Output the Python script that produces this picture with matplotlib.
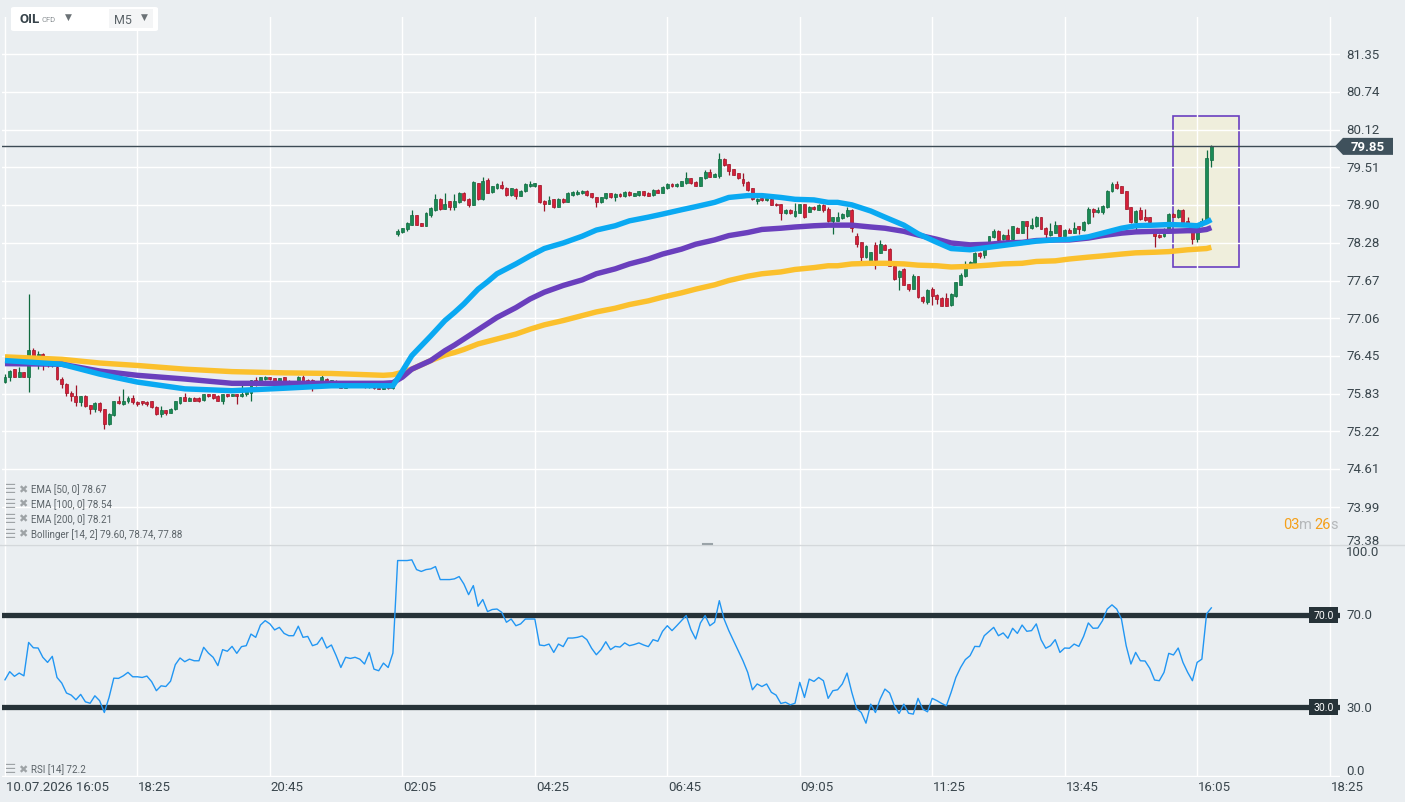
import numpy as np
import matplotlib
matplotlib.use("Agg")
import matplotlib.pyplot as plt
from matplotlib.patches import Rectangle, Polygon, FancyBboxPatch
from matplotlib.lines import Line2D

plt.rcParams["font.family"] = ["Roboto", "DejaVu Sans"]

W, H = 1405, 803
BG = "#eaeef1"
TXT = "#3a464d"

# ---- OHLC, M5 bars ----
opens = [
    76.02, 76.11, 76.23, 76.11, 76.18, 76.11, 76.54, 76.45, 76.48, 76.31,
    76.29, 76.26, 76.07, 75.99, 75.85, 75.80, 75.70, 75.79, 75.64, 75.59,
    75.68, 75.58, 75.34, 75.48, 75.71, 75.67, 75.71, 75.76, 75.70, 75.71,
    75.70, 75.71, 75.62, 75.50, 75.56, 75.52, 75.58, 75.68, 75.77, 75.72,
    75.76, 75.76, 75.73, 75.82, 75.82, 75.80, 75.72, 75.82, 75.80, 75.82,
    75.79, 75.82, 75.84, 76.05, 75.99, 76.07, 76.10, 76.08, 76.04, 76.10,
    76.04, 76.02, 76.04, 76.11, 76.06, 76.06, 76.02, 76.03, 76.07, 76.03,
    76.04, 75.98, 75.93, 75.97, 75.96, 75.97, 75.96, 75.94, 75.98, 75.92,
    75.91, 75.94, 75.92, 78.43, 78.46, 78.50, 78.58, 78.73, 78.60, 78.56,
    78.73, 78.82, 79.00, 78.83, 78.96, 78.86, 78.94, 79.10, 79.00, 78.90,
    79.25, 78.99, 79.30, 79.11, 79.17, 79.23, 79.18, 79.06, 79.16, 79.05,
    79.12, 79.20, 79.20, 79.22, 78.97, 78.92, 78.99, 78.87, 79.00, 78.95,
    79.06, 79.08, 79.09, 79.13, 79.09, 79.02, 78.94, 79.01, 79.09, 79.02,
    79.08, 79.04, 79.11, 79.05, 79.06, 79.12, 79.10, 79.06, 79.14, 79.10,
    79.17, 79.24, 79.20, 79.21, 79.25, 79.33, 79.27, 79.21, 79.33, 79.43,
    79.36, 79.37, 79.65, 79.56, 79.48, 79.41, 79.32, 79.27, 79.17, 78.97,
    79.01, 78.98, 79.00, 78.92, 78.91, 78.76, 78.82, 78.72, 78.77, 78.91,
    78.79, 78.87, 78.82, 78.89, 78.84, 78.63, 78.64, 78.68, 78.72, 78.82,
    78.40, 78.29, 78.05, 77.98, 78.25, 78.12, 78.25, 78.19, 77.91, 77.72,
    77.86, 77.61, 77.54, 77.74, 77.41, 77.32, 77.53, 77.44, 77.39, 77.39,
    77.27, 77.42, 77.60, 77.74, 77.94, 77.95, 78.12, 78.09, 78.28, 78.37,
    78.48, 78.34, 78.41, 78.34, 78.53, 78.45, 78.63, 78.53, 78.55, 78.70,
    78.53, 78.41, 78.45, 78.57, 78.40, 78.49, 78.45, 78.55, 78.49, 78.60,
    78.84, 78.78, 78.79, 78.86, 79.12, 79.24, 79.20, 79.12, 78.86, 78.62,
    78.82, 78.70, 78.70, 78.49, 78.41, 78.39, 78.51, 78.75, 78.70, 78.82,
    78.64, 78.46, 78.34, 78.57, 78.64, 79.63,
]
highs = [
    76.15, 76.22, 76.24, 76.26, 76.19, 77.45, 76.58, 76.53, 76.50, 76.33,
    76.38, 76.29, 76.10, 76.00, 75.87, 75.98, 75.80, 75.81, 75.65, 75.69,
    75.69, 75.59, 75.51, 75.72, 75.80, 75.91, 75.80, 75.81, 75.71, 75.72,
    75.72, 75.72, 75.63, 75.63, 75.57, 75.60, 75.72, 75.78, 75.85, 75.77,
    75.77, 75.77, 75.83, 75.83, 75.83, 75.81, 75.83, 75.83, 75.83, 75.83,
    76.02, 75.89, 76.06, 76.10, 76.11, 76.12, 76.11, 76.09, 76.09, 76.11,
    76.05, 76.04, 76.12, 76.14, 76.07, 76.07, 76.03, 76.13, 76.08, 76.06,
    76.05, 75.99, 75.98, 75.98, 75.98, 75.98, 75.97, 75.99, 75.99, 75.93,
    75.95, 75.95, 75.98, 78.51, 78.53, 78.62, 78.82, 78.74, 78.61, 78.78,
    78.86, 79.08, 79.01, 79.09, 78.97, 79.08, 79.11, 79.11, 79.01, 79.28,
    79.26, 79.35, 79.33, 79.21, 79.25, 79.29, 79.19, 79.18, 79.17, 79.14,
    79.25, 79.29, 79.26, 79.23, 78.98, 79.04, 79.00, 79.01, 79.01, 79.11,
    79.12, 79.14, 79.14, 79.14, 79.10, 79.03, 79.03, 79.10, 79.10, 79.09,
    79.09, 79.12, 79.12, 79.10, 79.13, 79.13, 79.11, 79.15, 79.15, 79.20,
    79.25, 79.25, 79.25, 79.29, 79.43, 79.34, 79.28, 79.36, 79.46, 79.49,
    79.41, 79.75, 79.66, 79.57, 79.49, 79.42, 79.42, 79.28, 79.18, 79.01,
    79.02, 79.02, 79.01, 78.93, 78.92, 78.83, 78.83, 78.93, 78.92, 78.92,
    78.88, 78.88, 78.91, 78.92, 78.86, 78.71, 78.79, 78.76, 78.86, 78.83,
    78.45, 78.30, 78.24, 78.14, 78.29, 78.33, 78.26, 78.20, 77.92, 77.84,
    77.87, 77.62, 77.78, 77.75, 77.42, 77.53, 77.56, 77.45, 77.40, 77.47,
    77.46, 77.65, 77.80, 77.98, 77.98, 78.13, 78.13, 78.25, 78.40, 78.51,
    78.49, 78.42, 78.51, 78.56, 78.54, 78.64, 78.64, 78.69, 78.72, 78.71,
    78.54, 78.60, 78.63, 78.58, 78.50, 78.53, 78.62, 78.56, 78.63, 78.86,
    78.85, 78.86, 78.89, 79.14, 79.27, 79.28, 79.21, 79.13, 78.87, 78.81,
    78.86, 78.83, 78.71, 78.50, 78.42, 78.53, 78.77, 78.76, 78.83, 78.83,
    78.70, 78.47, 78.60, 78.68, 79.79, 79.87,
]
lows = [
    76.00, 76.04, 76.10, 76.10, 76.10, 75.86, 76.29, 76.23, 76.22, 76.26,
    76.27, 76.05, 75.92, 75.80, 75.72, 75.63, 75.63, 75.62, 75.50, 75.53,
    75.53, 75.26, 75.32, 75.47, 75.66, 75.65, 75.68, 75.67, 75.63, 75.64,
    75.63, 75.60, 75.48, 75.46, 75.48, 75.51, 75.57, 75.67, 75.71, 75.71,
    75.71, 75.69, 75.72, 75.78, 75.75, 75.71, 75.66, 75.78, 75.79, 75.66,
    75.77, 75.80, 75.71, 75.95, 75.98, 76.06, 76.06, 76.03, 76.03, 76.03,
    76.01, 76.00, 76.03, 76.03, 76.03, 75.88, 76.00, 76.02, 76.02, 76.02,
    75.99, 75.92, 75.92, 75.95, 75.95, 75.95, 75.93, 75.93, 75.91, 75.90,
    75.90, 75.91, 75.91, 78.39, 78.45, 78.48, 78.57, 78.57, 78.55, 78.55,
    78.70, 78.80, 78.82, 78.83, 78.82, 78.82, 78.93, 78.97, 78.87, 78.89,
    78.98, 78.98, 79.09, 79.10, 79.16, 79.16, 79.05, 79.05, 78.99, 79.04,
    79.11, 79.19, 79.19, 78.93, 78.80, 78.91, 78.85, 78.86, 78.93, 78.94,
    79.05, 79.06, 79.08, 79.05, 79.01, 78.87, 78.93, 79.00, 79.01, 78.96,
    79.03, 79.03, 79.05, 79.04, 79.05, 79.05, 79.04, 79.05, 79.09, 79.09,
    79.16, 79.19, 79.19, 79.20, 79.24, 79.24, 79.20, 79.20, 79.32, 79.35,
    79.35, 79.33, 79.53, 79.38, 79.38, 79.32, 79.21, 79.12, 78.98, 78.91,
    78.97, 78.97, 78.89, 78.88, 78.66, 78.75, 78.75, 78.71, 78.76, 78.69,
    78.78, 78.82, 78.81, 78.79, 78.62, 78.43, 78.63, 78.67, 78.71, 78.46,
    78.22, 77.97, 78.04, 77.97, 77.86, 78.11, 78.16, 77.90, 77.68, 77.52,
    77.59, 77.50, 77.53, 77.39, 77.30, 77.29, 77.27, 77.29, 77.25, 77.25,
    77.26, 77.41, 77.59, 77.73, 77.93, 77.94, 78.04, 78.03, 78.27, 78.36,
    78.32, 78.33, 78.30, 78.33, 78.44, 78.44, 78.32, 78.51, 78.54, 78.50,
    78.34, 78.40, 78.44, 78.39, 78.39, 78.44, 78.44, 78.43, 78.48, 78.59,
    78.71, 78.77, 78.75, 78.85, 79.11, 79.15, 79.09, 78.83, 78.61, 78.48,
    78.66, 78.63, 78.56, 78.22, 78.36, 78.38, 78.50, 78.70, 78.69, 78.59,
    78.55, 78.26, 78.30, 78.56, 78.63, 79.51,
]
closes = [
    76.11, 76.20, 76.11, 76.18, 76.11, 76.54, 76.45, 76.48, 76.31, 76.29,
    76.36, 76.07, 75.99, 75.85, 75.79, 75.70, 75.79, 75.63, 75.59, 75.68,
    75.57, 75.34, 75.50, 75.71, 75.68, 75.71, 75.76, 75.69, 75.66, 75.68,
    75.66, 75.61, 75.50, 75.56, 75.51, 75.59, 75.71, 75.77, 75.72, 75.76,
    75.72, 75.72, 75.82, 75.79, 75.76, 75.72, 75.82, 75.79, 75.82, 75.79,
    75.82, 75.88, 76.05, 75.99, 76.10, 76.10, 76.07, 76.04, 76.08, 76.04,
    76.02, 76.03, 76.11, 76.04, 76.04, 76.01, 76.01, 76.10, 76.03, 76.05,
    76.00, 75.93, 75.97, 75.96, 75.97, 75.96, 75.94, 75.98, 75.92, 75.91,
    75.94, 75.92, 75.97, 78.48, 78.52, 78.61, 78.73, 78.58, 78.56, 78.77,
    78.85, 79.00, 78.83, 78.91, 78.87, 78.96, 79.10, 78.98, 78.90, 79.27,
    78.99, 79.29, 79.10, 79.20, 79.24, 79.17, 79.06, 79.17, 79.05, 79.13,
    79.24, 79.24, 79.25, 78.94, 78.91, 78.98, 78.86, 79.00, 78.94, 79.09,
    79.11, 79.11, 79.13, 79.06, 79.02, 78.95, 79.02, 79.09, 79.02, 79.08,
    79.04, 79.11, 79.06, 79.09, 79.12, 79.06, 79.05, 79.14, 79.10, 79.19,
    79.24, 79.20, 79.24, 79.28, 79.33, 79.25, 79.21, 79.35, 79.43, 79.36,
    79.40, 79.65, 79.54, 79.45, 79.39, 79.33, 79.25, 79.14, 78.99, 79.00,
    78.98, 79.01, 78.90, 78.89, 78.77, 78.82, 78.76, 78.80, 78.91, 78.71,
    78.87, 78.83, 78.89, 78.82, 78.63, 78.70, 78.70, 78.75, 78.82, 78.52,
    78.27, 78.05, 78.23, 78.13, 78.01, 78.26, 78.17, 77.91, 77.69, 77.83,
    77.60, 77.54, 77.75, 77.40, 77.33, 77.52, 77.42, 77.37, 77.26, 77.26,
    77.45, 77.64, 77.76, 77.91, 77.97, 78.12, 78.07, 78.24, 78.39, 78.48,
    78.33, 78.41, 78.33, 78.55, 78.45, 78.63, 78.55, 78.57, 78.71, 78.51,
    78.43, 78.47, 78.57, 78.40, 78.49, 78.45, 78.53, 78.50, 78.62, 78.84,
    78.78, 78.82, 78.88, 79.13, 79.24, 79.18, 79.10, 78.84, 78.62, 78.80,
    78.67, 78.66, 78.62, 78.39, 78.37, 78.44, 78.75, 78.71, 78.82, 78.60,
    78.56, 78.34, 78.59, 78.64, 79.66, 79.86,
]

# EMA lines, sampled at these bar indices
ema_bars = [0, 12, 20, 28, 38, 48, 59, 69, 80, 82, 84, 86, 88, 90, 93, 95, 97,
            100, 102, 104, 108, 111, 114, 118, 122, 125, 129, 132, 136, 139,
            143, 146, 150, 153, 157, 160, 164, 167, 171, 174, 176, 179, 183,
            186, 190, 193, 197, 200, 204, 208, 211, 215, 218, 222, 225, 229,
            232, 236, 239, 243, 246, 250, 252, 254, 255]
ema50 = [76.37, 76.31, 76.15, 76.02, 75.91, 75.88, 75.92, 75.96, 75.96, 75.96,
         76.20, 76.45, 76.61, 76.77, 77.02, 77.15, 77.29, 77.53, 77.65, 77.78,
         77.94, 78.07, 78.19, 78.28, 78.39, 78.49, 78.56, 78.64, 78.70, 78.75,
         78.82, 78.87, 78.94, 79.02, 79.05, 79.05, 79.02, 78.99, 78.98, 78.94,
         78.94, 78.90, 78.80, 78.70, 78.57, 78.43, 78.29, 78.19, 78.17, 78.21,
         78.24, 78.28, 78.31, 78.33, 78.34, 78.38, 78.44, 78.52, 78.56, 78.57,
         78.58, 78.57, 78.56, 78.62, 78.66]
ema100 = [76.32, 76.31, 76.20, 76.13, 76.07, 76.00, 76.00, 76.00, 76.00, 76.01,
          76.10, 76.23, 76.30, 76.37, 76.53, 76.62, 76.72, 76.87, 76.97, 77.07,
          77.23, 77.37, 77.48, 77.59, 77.68, 77.78, 77.86, 77.94, 78.02, 78.10,
          78.18, 78.26, 78.33, 78.40, 78.45, 78.50, 78.52, 78.54, 78.56, 78.57,
          78.57, 78.57, 78.54, 78.52, 78.47, 78.41, 78.34, 78.28, 78.25, 78.26,
          78.28, 78.29, 78.32, 78.33, 78.33, 78.36, 78.40, 78.44, 78.46, 78.47,
          78.47, 78.48, 78.48, 78.50, 78.53]
ema200 = [76.43, 76.39, 76.33, 76.29, 76.23, 76.19, 76.17, 76.16, 76.13, 76.14,
          76.18, 76.23, 76.30, 76.37, 76.46, 76.50, 76.55, 76.64, 76.68, 76.72,
          76.80, 76.88, 76.95, 77.02, 77.10, 77.16, 77.22, 77.28, 77.34, 77.40,
          77.47, 77.53, 77.60, 77.67, 77.74, 77.78, 77.81, 77.85, 77.88, 77.91,
          77.91, 77.94, 77.95, 77.95, 77.94, 77.92, 77.91, 77.89, 77.90, 77.92,
          77.94, 77.95, 77.98, 77.99, 78.02, 78.05, 78.07, 78.10, 78.12, 78.13,
          78.14, 78.17, 78.18, 78.19, 78.21]

rsi = [
    41.9, 45.4, 43.4, 44.8, 43.6, 58.0, 55.7, 55.6, 51.6, 49.4,
    52.0, 42.9, 40.5, 36.2, 35.3, 33.3, 35.6, 32.4, 31.8, 35.0,
    32.9, 27.8, 34.3, 42.6, 42.5, 43.6, 45.1, 43.2, 43.2, 42.9,
    43.5, 41.1, 37.2, 39.3, 39.0, 41.3, 48.4, 51.3, 49.7, 50.8,
    50.1, 50.1, 55.9, 53.4, 51.6, 48.0, 54.9, 54.2, 56.3, 53.3,
    56.2, 56.6, 61.6, 60.2, 65.5, 67.4, 66.0, 63.4, 64.5, 61.9,
    60.9, 60.9, 65.0, 60.2, 60.6, 56.6, 57.3, 60.2, 55.6, 56.9,
    52.3, 47.2, 51.6, 51.1, 51.6, 50.8, 48.7, 53.7, 46.5, 45.8,
    49.1, 47.2, 53.4, 93.3, 93.3, 93.3, 93.6, 89.4, 88.6, 89.4,
    89.7, 90.7, 85.1, 85.1, 85.1, 85.4, 86.4, 83.2, 78.6, 82.5,
    73.6, 76.5, 71.3, 72.2, 72.4, 71.0, 66.7, 68.1, 65.2, 66.0,
    68.1, 68.1, 68.1, 56.9, 56.6, 57.3, 53.7, 57.3, 56.2, 59.9,
    59.9, 60.2, 60.8, 59.2, 55.5, 52.7, 54.9, 58.3, 54.9, 56.3,
    56.0, 57.8, 56.6, 57.1, 57.8, 56.9, 56.2, 59.2, 58.5, 62.8,
    65.2, 63.1, 65.2, 67.4, 69.6, 63.5, 59.5, 66.4, 69.6, 65.2,
    66.7, 76.0, 68.1, 63.1, 58.8, 54.4, 50.1, 45.1, 37.6, 40.1,
    39.0, 40.1, 36.5, 35.3, 31.7, 32.2, 31.1, 31.8, 40.8, 34.3,
    42.2, 41.2, 42.9, 41.5, 33.9, 37.2, 37.6, 40.1, 44.8, 36.5,
    29.5, 27.8, 23.2, 31.4, 27.8, 33.6, 37.9, 36.2, 30.7, 27.4,
    31.4, 27.5, 27.1, 33.9, 29.3, 28.1, 33.9, 32.9, 31.7, 30.7,
    36.5, 42.9, 47.2, 50.6, 52.3, 56.3, 56.2, 60.9, 62.7, 64.5,
    60.9, 62.1, 59.8, 64.1, 61.9, 65.5, 62.8, 63.1, 66.0, 59.2,
    55.5, 56.6, 59.2, 53.7, 55.6, 55.5, 57.3, 56.3, 60.6, 66.4,
    64.1, 64.2, 67.4, 72.4, 74.2, 72.4, 68.1, 56.6, 48.7, 53.7,
    50.1, 50.0, 46.8, 41.8, 41.5, 45.1, 53.3, 52.6, 55.6, 49.4,
    45.1, 41.5, 49.4, 50.8, 70.3, 72.9,
]

price_ticks = [73.38, 73.99, 74.61, 75.22, 75.83, 76.45, 77.06, 77.67,
               78.28, 78.90, 79.51, 80.12, 80.74, 81.35]
rsi_ticks = [0.0, 30.0, 70.0, 100.0]
time_ticks = [0, 28, 56, 84, 112, 140, 168, 196, 224, 252, 280]
time_labels = ["10.07.2026 16:05", "18:25", "20:45", "02:05", "04:25",
               "06:45", "09:05", "11:25", "13:45", "16:05", "18:25"]
last_price = 79.85
legend_rows = ["EMA [50, 0] 78.67", "EMA [100, 0] 78.54", "EMA [200, 0] 78.21",
               "Bollinger [14, 2] 79.60, 78.74, 77.88"]
rsi_legend = "RSI [14] 72.2"


def px_box(x0, y0, x1, y1):
    """pixel box (top-left origin) -> figure fraction [l, b, w, h]"""
    return [x0 / W, 1 - y1 / H, (x1 - x0) / W, (y1 - y0) / H]


def fx(x):
    return x / W


def fy(y):
    return 1 - y / H


fig = plt.figure(figsize=(W / 100, H / 100), dpi=100, facecolor=BG)
ax = fig.add_axes(px_box(2, 18, 1340, 546))
axr = fig.add_axes(px_box(2, 546, 1340, 778))
XLIM = (-0.63, 282.2)
for a in (ax, axr):
    a.set_facecolor(BG)
    a.set_xlim(*XLIM)
    for s in a.spines.values():
        s.set_visible(False)
    a.set_xticks([])
    a.set_yticks([])
    for t in time_ticks:
        a.axvline(t, color="white", lw=1.0, zorder=1)
ax.set_ylim(73.373, 81.952)
axr.set_ylim(0, 100)

for p in price_ticks:
    ax.axhline(p, color="white", lw=1.0, zorder=1)
axr.axhline(0.3, color="white", lw=1.0, zorder=1)

# highlight box around the latest bars
ax.add_patch(Rectangle((246.9, 77.89), 14.0, 80.343 - 77.89, facecolor="#efeedc",
                       edgecolor="#6a3fc0", lw=1.2, zorder=0.9))

# candles
xb = np.arange(len(closes))
o = np.array(opens); c = np.array(closes)
hi = np.array(highs); lo = np.array(lows)
up = c >= o
face = np.where(up, "#1b8a56", "#d52039")
edge = np.where(up, "#0f6a3f", "#9e1428")
ax.vlines(xb, lo, hi, colors=edge, lw=0.9, zorder=2)
ax.bar(xb, np.maximum(np.abs(c - o), 0.012), bottom=np.minimum(o, c), width=0.62,
       color=face, edgecolor=edge, linewidth=0.5, zorder=3)

# moving averages
ax.plot(ema_bars, ema200, color="#fbc02d", lw=3.9, zorder=4, solid_capstyle="butt")
ax.plot(ema_bars, ema100, color="#6a3fbd", lw=3.9, zorder=5, solid_capstyle="butt")
ax.plot(ema_bars, ema50, color="#0aa9f2", lw=3.9, zorder=6, solid_capstyle="butt")

# last price line + marker
ax.axhline(last_price, color="#3d4b55", lw=1.0, zorder=7)
pm_y = 18 + (81.952 - last_price) / (81.952 - 73.373) * 528
fig.patches.append(Polygon([(fx(1335), fy(pm_y)), (fx(1343), fy(pm_y - 8.5)),
                            (fx(1393), fy(pm_y - 8.5)), (fx(1393), fy(pm_y + 8.5)),
                            (fx(1343), fy(pm_y + 8.5))], closed=True,
                           transform=fig.transFigure, facecolor="#3f515c",
                           edgecolor="none"))
fig.text(fx(1368), fy(pm_y), f"{last_price:.2f}", color="white", fontsize=9.5,
         fontweight="bold", ha="center", va="center")

# price axis labels
ytr = ax.get_yaxis_transform()
for p in price_ticks:
    yy = p + 0.07 if p == price_ticks[0] else p
    ax.text(1.0045, yy, f"{p:.2f}", transform=ytr, ha="left", va="center",
            fontsize=9.5, color=TXT, clip_on=False)

# RSI panel
axr.plot(xb, rsi, color="#2196f3", lw=1.0, zorder=4)
for lvl in (70, 30):
    axr.axhline(lvl, color="#263238", lw=3.8, zorder=3)
    yl = 546 + (100 - lvl) / 100 * 232
    fig.patches.append(Rectangle((fx(1309), fy(yl + 8)), fx(1338) - fx(1309),
                                 16 / H, transform=fig.transFigure,
                                 facecolor="#263238", edgecolor="none"))
    fig.text(fx(1323.5), fy(yl), f"{lvl:.1f}", color="white", fontsize=7.5,
             ha="center", va="center")
rtr = axr.get_yaxis_transform()
for v in rsi_ticks:
    va = "top" if v == 100 else ("bottom" if v == 0 else "center")
    axr.text(1.0045, v, f"{v:.1f}", transform=rtr, ha="left", va=va,
             fontsize=9.5, color=TXT, clip_on=False)

# time axis labels
xtr = axr.get_xaxis_transform()
for t, lab in zip(time_ticks, time_labels):
    axr.text(t + 0.2, -0.039, lab, transform=xtr, ha="left", va="center",
             fontsize=9.5, color=TXT, clip_on=False)

# panel separator
fig.lines.append(Line2D([0, 1], [fy(546), fy(546)], transform=fig.transFigure,
                        color="#d4d8db", lw=1.0))
fig.lines.append(Line2D([fx(703), fx(712)], [fy(545), fy(545)],
                        transform=fig.transFigure, color="#9aa3a8", lw=1.5))

# indicator legends
for i, row in enumerate(legend_rows):
    yy = 490 + i * 14.7
    fig.text(fx(5), fy(yy), "☰", fontsize=9, color="#9ea3a6", va="center",
             fontweight="bold")
    fig.text(fx(18), fy(yy), "✖", fontsize=8, color="#9ea3a6", va="center")
    fig.text(fx(31), fy(yy), row, fontsize=7, color="#5b6368", va="center")
fig.text(fx(5), fy(770), "☰", fontsize=9, color="#9ea3a6", va="center",
         fontweight="bold")
fig.text(fx(18), fy(770), "✖", fontsize=8, color="#9ea3a6", va="center")
fig.text(fx(31), fy(770), rsi_legend, fontsize=7, color="#5b6368", va="center")

# candle countdown
for xx, s, col in [(1283, "03", "#f5a01a"), (1299, "m", "#b5b8ba"),
                   (1314, "26", "#f5a01a"), (1330, "s", "#b5b8ba")]:
    fig.text(fx(xx), fy(525), s, color=col, fontsize=10.5, va="center")

# instrument selector
fig.patches.append(FancyBboxPatch((fx(11), fy(32)), fx(147), 24 / H,
                                  boxstyle="round,pad=0,rounding_size=0.002",
                                  transform=fig.transFigure, facecolor="white",
                                  edgecolor="none"))
fig.patches.append(Rectangle((fx(109), fy(29)), fx(44), 19 / H,
                             transform=fig.transFigure, facecolor="#f4f5f6",
                             edgecolor="none"))
fig.text(fx(20), fy(19.5), "OIL", fontsize=9.5, fontweight="bold", color="#37434a",
         va="center")
fig.text(fx(41), fy(20), "CFD", fontsize=5.5, color="#8a9094", va="center")
fig.text(fx(65), fy(17), "▼", fontsize=6.5, color="#6b7276", va="center")
fig.text(fx(114), fy(20), "M5", fontsize=9, color="#5b6368", va="center")
fig.text(fx(141), fy(17), "▼", fontsize=6.5, color="#6b7276", va="center")

fig.savefig("out.png", dpi=100, facecolor=BG)
